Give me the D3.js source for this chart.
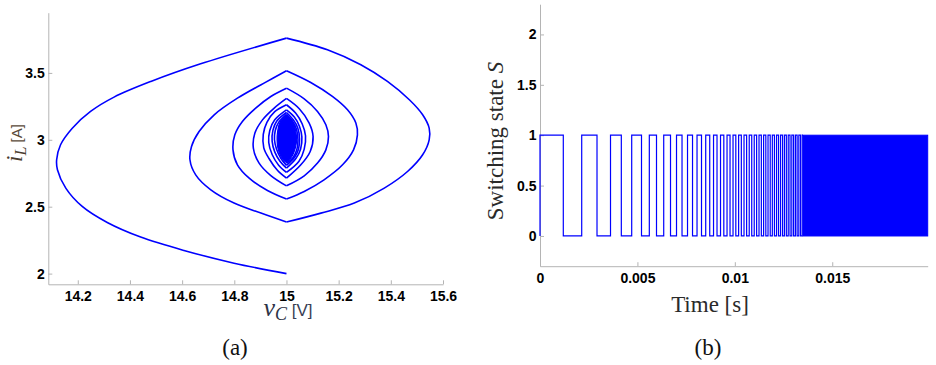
<!DOCTYPE html>
<html><head><meta charset="utf-8">
<script src="https://cdn.jsdelivr.net/npm/d3@7"></script>
<style>body{margin:0;background:#fff} svg{display:block}</style>
</head><body>
<svg id="chart" width="936" height="365"></svg>
<script>
// ---------------- data ----------------
// (a) phase plane: capacitor voltage v_C [V] vs inductor current i_L [A]
const vcTicks = [14.2, 14.4, 14.6, 14.8, 15, 15.2, 15.4, 15.6];
const ilTicks = [2, 2.5, 3, 3.5];
const vcDomain = [14.087, 15.6];
const ilDomain = [1.92, 3.95];
// trajectory arcs between switching instants (switching line v_C = 15)
const phaseArcs = [
  [[15,2.0],[14.799,2.078],[14.607,2.173],[14.441,2.273],[14.313,2.382],[14.217,2.502],[14.154,2.639],[14.122,2.776],[14.119,2.851],[14.134,2.963],[14.179,3.087],[14.249,3.212],[14.339,3.319],[14.48,3.436],[14.671,3.568],[15,3.76]],
  [[15,3.76],[15.157,3.673],[15.285,3.561],[15.387,3.436],[15.471,3.299],[15.522,3.187],[15.547,3.087],[15.547,3.0],[15.522,2.888],[15.464,2.763],[15.375,2.639],[15.26,2.527],[15.132,2.452],[15,2.385]],
  [[15,2.385],[14.902,2.452],[14.799,2.527],[14.71,2.626],[14.652,2.738],[14.63,2.851],[14.636,2.95],[14.665,3.062],[14.723,3.187],[14.812,3.311],[14.914,3.424],[15,3.516]],
  [[15,3.516],[15.093,3.428],[15.176,3.324],[15.234,3.224],[15.266,3.125],[15.272,3.037],[15.257,2.925],[15.215,2.813],[15.144,2.701],[15.068,2.614],[15,2.557]],
  [[15,2.557],[14.927,2.621],[14.857,2.713],[14.812,2.813],[14.795,2.925],[14.802,3.037],[14.831,3.137],[14.882,3.237],[14.94,3.324],[15,3.386]],
  [[15,3.386],[15.068,3.306],[15.119,3.212],[15.151,3.112],[15.161,3.025],[15.151,2.925],[15.119,2.826],[15.068,2.731],[15,2.656]],
  [[15,2.656],[14.94,2.733],[14.895,2.826],[14.873,2.938],[14.879,3.05],[14.908,3.149],[14.953,3.237],[15,3.309]],
  [[15,3.309],[15.049,3.232],[15.087,3.125],[15.102,3.025],[15.091,2.913],[15.055,2.813],[15,2.713]],
  [[15,2.713],[14.966,2.77],[14.933,2.86],[14.913,2.94],[14.911,3.04],[14.925,3.13],[14.955,3.21],[15,3.262]],
  [[15,3.262],[15.035,3.2],[15.06,3.12],[15.073,3.03],[15.068,2.93],[15.048,2.84],[15,2.756]],
  [[15,2.756],[14.97,2.81],[14.945,2.89],[14.932,2.98],[14.936,3.07],[14.955,3.15],[15,3.224]],
  [[15,3.224],[15.03,3.17],[15.05,3.1],[15.059,3.02],[15.054,2.93],[15.036,2.86],[15,2.788]],
  [[15,2.788],[14.975,2.84],[14.955,2.91],[14.945,2.99],[14.948,3.07],[14.963,3.14],[15,3.204]],
  [[15,3.204],[15.026,3.15],[15.043,3.09],[15.05,3.01],[15.046,2.93],[15.031,2.87],[15,2.809]],
  [[15,2.809],[14.979,2.86],[14.962,2.93],[14.954,3.0],[14.957,3.07],[14.97,3.13],[15,3.19]],
  [[15,3.19],[15.023,3.14],[15.038,3.08],[15.044,3.0],[15.04,2.93],[15.026,2.87],[15,2.824]]
];
// dense converged core (many overlapping loops)
const phaseCore = [[15,3.183],[14.975,3.13],[14.966,3.06],[14.964,3.0],[14.967,2.94],[14.978,2.88],[15,2.832],[15.022,2.88],[15.034,2.94],[15.039,3.0],[15.036,3.06],[15.025,3.13],[15,3.183]];

// (b) switching state S over time
const timeTicks = [0, 0.005, 0.01, 0.015];
const timeTickLabels = ["0", "0.005", "0.01", "0.015"];
const stateTicks = [0, 0.5, 1, 1.5, 2];
const timeDomain = [0, 0.0199];
const stateDomain = [-0.3, 2.3];
const initialState = 1;
const switchTimes = [0.001196,0.002141,0.002926,0.003619,0.004174,0.004707,0.00521,0.005611,0.00598,0.00635,
  0.006699,0.007007,0.00729,0.007572,0.007829,0.00806,0.00829,0.008506,0.008712,0.008907,
  0.009086,0.009266,0.009435,0.0096,0.009754,0.009908,0.010051,0.010195,0.010334,0.010472,
  0.010606,0.010739,0.010868,0.010996,0.011119,0.011242,0.011361,0.011478,0.011591,0.011704,
  0.011817,0.011925,0.012033,0.012141,0.012243,0.012346,0.012449,0.012546,0.012644,0.012741,
  0.012834,0.012926,0.013018,0.013111,0.013198,0.013285,0.013373,0.01346];
const denseBand = [0.0135, 0.0199]; // chattering region (switching too fast to resolve)

// ---------------- drawing ----------------
const svg = d3.select("#chart");
const blue = "#0000ff";
const axisGray = "#b4b4b4";
const tickFont = "'Liberation Sans', Arial, sans-serif";
const serif = "'Liberation Serif', 'Times New Roman', serif";

function styleAxis(g) {
  g.select(".domain").attr("stroke", axisGray).attr("stroke-width", 1);
  g.selectAll(".tick line").attr("stroke", axisGray);
  g.selectAll(".tick text").attr("fill", "#000").style("font-family", tickFont)
    .style("font-weight", "bold").style("font-size", "14px");
}

// ---- panel (a)
const xA = d3.scaleLinear().domain(vcDomain).range([48.3, 443]);
const yA = d3.scaleLinear().domain(ilDomain).range([284.3, 12.7]);
const gA = svg.append("g");

gA.append("g").attr("transform", `translate(0,${yA.range()[0]})`)
  .call(d3.axisBottom(xA).tickValues(vcTicks).tickFormat(d3.format("")).tickSizeInner(-4).tickSizeOuter(0).tickPadding(7))
  .call(styleAxis);
gA.append("g").attr("transform", `translate(${xA.range()[0]},0)`)
  .call(d3.axisLeft(yA).tickValues(ilTicks).tickFormat(d3.format("")).tickSizeInner(-4).tickSizeOuter(0).tickPadding(3.5))
  .call(styleAxis);

const lineA = d3.line().x(d => xA(d[0])).y(d => yA(d[1])).curve(d3.curveCatmullRom.alpha(0.5));
gA.append("path").datum(phaseCore).attr("d", lineA)
  .attr("fill", blue).attr("stroke", blue).attr("stroke-width", 1.2);
gA.selectAll("path.arc").data(phaseArcs).join("path").attr("class", "arc")
  .attr("d", lineA).attr("fill", "none").attr("stroke", blue)
  .attr("stroke-width", 1.6).attr("stroke-linejoin", "miter");

// axis labels (a)
const yLab = gA.append("text").attr("transform", "translate(22,143) rotate(-90)")
  .attr("text-anchor", "middle").attr("fill", "#4a3c2e");
yLab.append("tspan").text("i").style("font-family", serif).style("font-style", "italic").style("font-size", "23px");
yLab.append("tspan").text("L").attr("dy", 4).style("font-family", serif).style("font-style", "italic").style("font-size", "16px");
yLab.append("tspan").text(" [A]").attr("dy", -4).style("font-family", tickFont).style("font-size", "15px").attr("fill", "#5a4a3a");

const xLab = gA.append("text").attr("x", 288).attr("y", 316).attr("text-anchor", "middle").attr("fill", "#2e3346");
xLab.append("tspan").text("v").style("font-family", serif).style("font-style", "italic").style("font-size", "26px");
xLab.append("tspan").text("C").attr("dy", 4).style("font-family", serif).style("font-style", "italic").style("font-size", "18px");
xLab.append("tspan").text(" [V]").attr("dy", -4).style("font-family", tickFont).style("font-size", "17px").attr("fill", "#3a4055");

gA.append("text").attr("x", 235).attr("y", 355).attr("text-anchor", "middle")
  .style("font-family", serif).style("font-size", "23px").attr("fill", "#111").text("(a)");

// ---- panel (b)
const xB = d3.scaleLinear().domain(timeDomain).range([540, 927.7]);
const yB = d3.scaleLinear().domain(stateDomain).range([266.2, 4.2]);
const gB = svg.append("g");

gB.append("g").attr("transform", `translate(0,${yB.range()[0]})`)
  .call(d3.axisBottom(xB).tickValues(timeTicks).tickFormat((d, i) => timeTickLabels[i]).tickSizeInner(-4).tickSizeOuter(0).tickPadding(6.5))
  .call(styleAxis);
gB.append("g").attr("transform", `translate(${xB.range()[0]},0)`)
  .call(d3.axisLeft(yB).tickValues(stateTicks).tickFormat(d3.format("")).tickSizeInner(-4).tickSizeOuter(0).tickPadding(3.5))
  .call(styleAxis);

// build step series from switching instants
const steps = [[0, 0], [0, initialState]];
let s = initialState;
switchTimes.forEach(t => { s = 1 - s; steps.push([t, s]); });
steps.push([denseBand[0], s]);

gB.append("rect")
  .attr("x", xB(denseBand[0])).attr("width", xB(denseBand[1]) - xB(denseBand[0]))
  .attr("y", yB(1)).attr("height", yB(0) - yB(1))
  .attr("fill", blue).attr("stroke", blue).attr("stroke-width", 1);

const lineB = d3.line().x(d => xB(d[0])).y(d => yB(d[1])).curve(d3.curveStepAfter);
gB.append("path").datum(steps).attr("d", lineB)
  .attr("fill", "none").attr("stroke", blue).attr("stroke-width", 1.2);

gB.append("text").attr("transform", "translate(503,141) rotate(-90)").attr("text-anchor", "middle")
  .style("font-family", serif).style("font-size", "23px").attr("fill", "#2a2a2a")
  .call(t => {
    t.append("tspan").text("Switching state  ");
    t.append("tspan").text("S").style("font-style", "italic");
  });
gB.append("text").attr("x", 710).attr("y", 312).attr("text-anchor", "middle")
  .style("font-family", serif).style("font-size", "23px").attr("fill", "#2a2a2a").text("Time [s]");

gB.append("text").attr("x", 708).attr("y", 355).attr("text-anchor", "middle")
  .style("font-family", serif).style("font-size", "23px").attr("fill", "#111").text("(b)");
</script>
</body></html>
